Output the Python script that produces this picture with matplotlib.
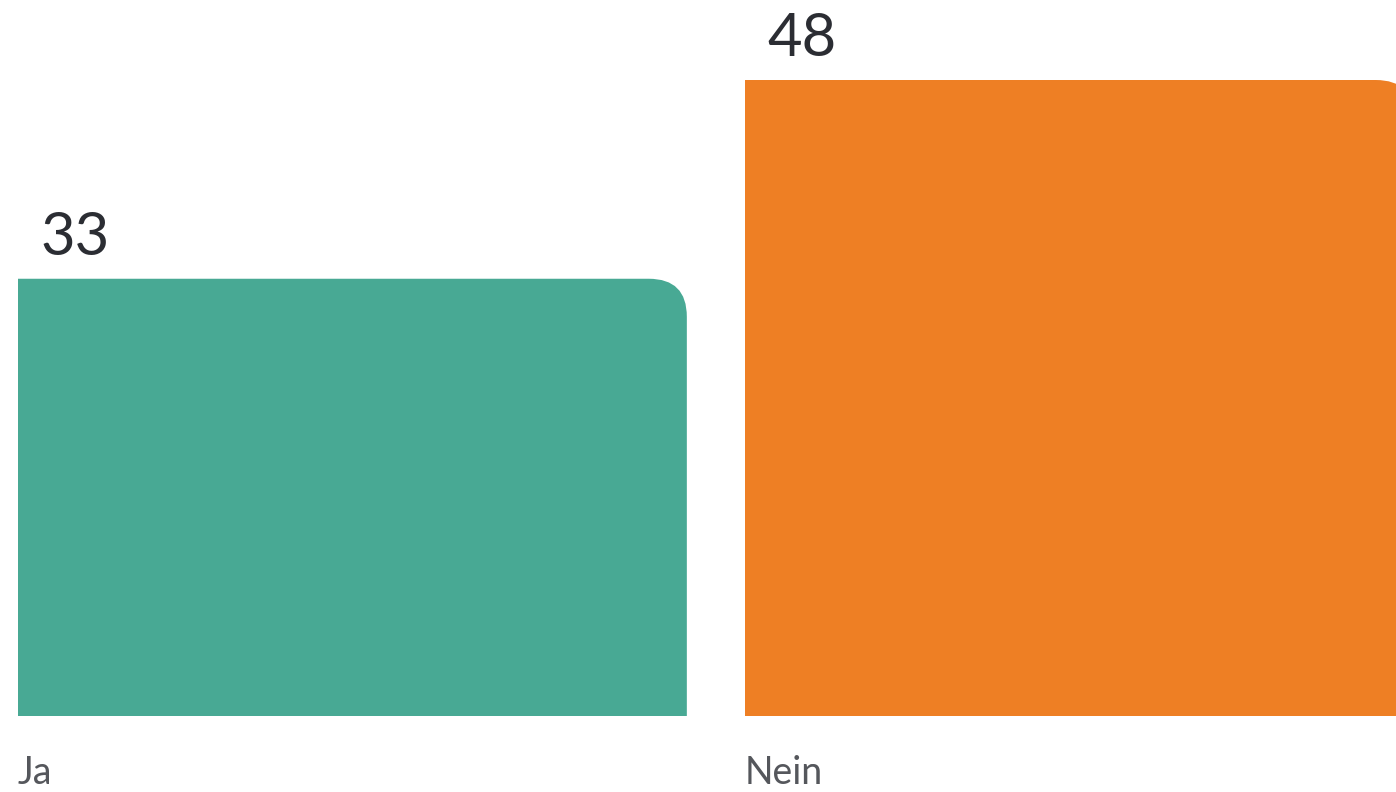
import matplotlib
matplotlib.use('Agg')
import matplotlib.pyplot as plt
from matplotlib.path import Path
from matplotlib.patches import PathPatch

categories = ['Ja', 'Nein']
values = [33, 48]
colors = ['#48A994', '#EE7F24']

plt.rcParams['font.family'] = ['Lato', 'DejaVu Sans']

fig = plt.figure(figsize=(13.96, 7.92), dpi=100)
ax = fig.add_axes([0, 0, 1, 1])

width = 0.92
px_x = 727.0     # pixels per x unit
px_y = 13.25     # pixels per value unit
xmin = -width / 2 - 18 / px_x
ax.set_xlim(xmin, xmin + 1396 / px_x)
ax.set_ylim(-76 / px_y, 716 / px_y)
ax.axis('off')

bars = ax.bar(range(len(categories)), values, width=width, color=colors)


def rounded_top_right(x, y, w, h, rx, ry):
    verts = [(x, y), (x + w, y), (x + w, y + h - ry),
             (x + w, y + h), (x + w - rx, y + h),
             (x, y + h), (x, y)]
    codes = [Path.MOVETO, Path.LINETO, Path.LINETO,
             Path.CURVE3, Path.CURVE3,
             Path.LINETO, Path.CLOSEPOLY]
    return Path(verts, codes)


r = 38  # corner radius in px
for b in bars:
    x, y = b.get_x(), b.get_y()
    w, h = b.get_width(), b.get_height()
    b.set_visible(False)
    p = rounded_top_right(x, y, w, h, r / px_x, r / px_y)
    ax.add_patch(PathPatch(p, facecolor=b.get_facecolor(), edgecolor='none'))
    # value label above bar, left aligned
    ax.text(x + 22 / px_x, y + h + 24 / px_y, str(int(h)),
            ha='left', va='baseline', fontsize=43, color='#2B2D33')

for b, cat in zip(bars, categories):
    ax.text(b.get_x(), -(68 / px_y), cat, ha='left', va='baseline',
            fontsize=27, color='#55575C')

fig.savefig('out.png', dpi=100)
